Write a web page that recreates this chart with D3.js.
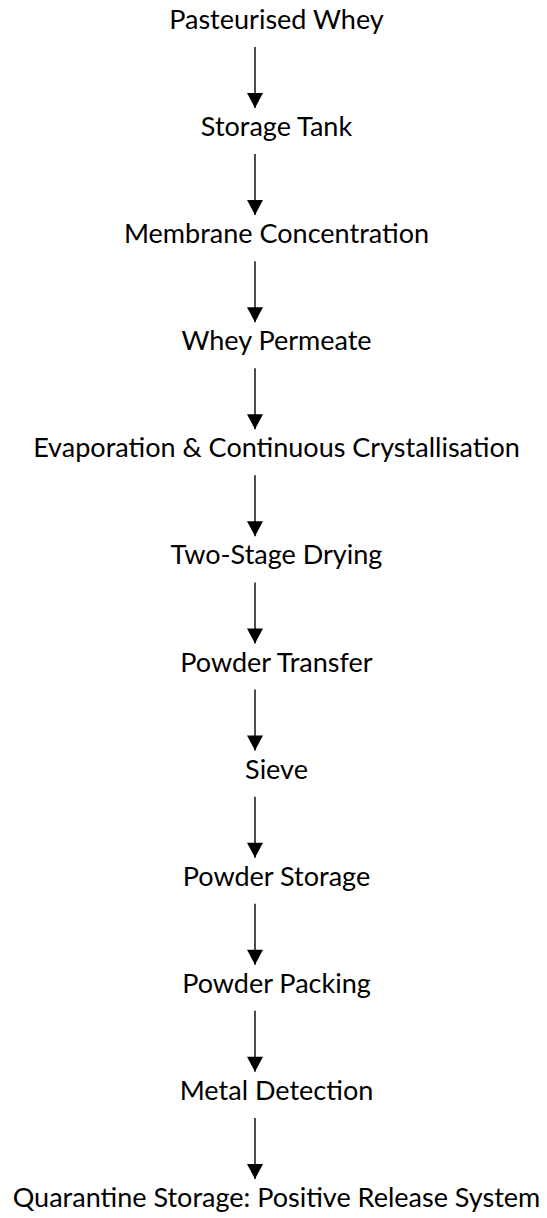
<!DOCTYPE html>
<html>
<head>
<meta charset="utf-8">
<script src="https://cdn.jsdelivr.net/npm/d3@7"></script>
<style>
  html, body { margin: 0; padding: 0; background: #fff; }
  svg { display: block; }
</style>
</head>
<body>
<svg id="chart" width="547" height="1218"></svg>
<script>
// Process steps (top to bottom)
const steps = [
  "Pasteurised Whey",
  "Storage Tank",
  "Membrane Concentration",
  "Whey Permeate",
  "Evaporation & Continuous Crystallisation",
  "Two-Stage Drying",
  "Powder Transfer",
  "Sieve",
  "Powder Storage",
  "Powder Packing",
  "Metal Detection",
  "Quarantine Storage: Positive Release System"
];
// Links between consecutive steps
const links = steps.slice(0, -1).map((s, i) => ({ source: s, target: steps[i + 1] }));

const width = 547, height = 1218;
const svg = d3.select("#chart");

const y = d3.scalePoint().domain(steps).range([29, 1207]);
const textX = 276.5;
const arrowX = 255;
const fontFamily = "Lato, 'Open Sans', sans-serif";

// fit font size so the longest label matches the reference width
const probe = svg.append("text").attr("font-family", fontFamily).attr("font-size", 100)
  .text(steps[4]);
const w100 = probe.node().getComputedTextLength();
probe.remove();
const fontSize = 100 * 487 / w100;

svg.append("defs").append("marker")
  .attr("id", "head")
  .attr("viewBox", "0 0 16 15")
  .attr("refX", 16 / 2).attr("refY", 15)
  .attr("markerWidth", 16).attr("markerHeight", 15)
  .attr("markerUnits", "userSpaceOnUse")
  .attr("orient", "0")
  .append("path")
  .attr("d", "M0,0 L16,0 L8,15 Z")
  .attr("fill", "#000");

svg.append("g").selectAll("line")
  .data(links)
  .join("line")
  .attr("x1", arrowX).attr("x2", arrowX)
  .attr("y1", d => y(d.source) + 18)
  .attr("y2", d => y(d.source) + 79)
  .attr("stroke", "#000")
  .attr("stroke-width", 1.4);

svg.append("g").selectAll("path")
  .data(links)
  .join("path")
  .attr("d", d => {
    const tip = y(d.source) + 79;
    return `M${arrowX - 8},${tip - 15} L${arrowX + 8},${tip - 15} L${arrowX},${tip} Z`;
  })
  .attr("fill", "#000");

svg.append("g").selectAll("text")
  .data(steps)
  .join("text")
  .attr("x", textX)
  .attr("y", d => y(d))
  .attr("text-anchor", "middle")
  .attr("font-family", fontFamily)
  .attr("font-size", fontSize)
  .attr("fill", "#000")
  .text(d => d);
</script>
</body>
</html>
